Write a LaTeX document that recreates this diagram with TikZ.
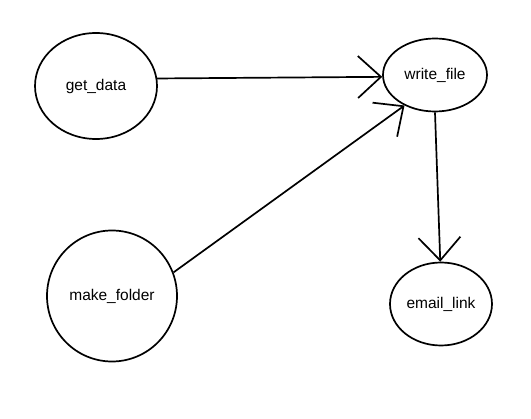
\documentclass[tikz,border=0pt]{standalone}
\usepackage{fontspec}
\setmainfont{Liberation Sans}
\usetikzlibrary{shapes.geometric,arrows.meta}
\begin{document}
\begin{tikzpicture}[x=1pt,y=-1pt,
  proc/.style={draw,ellipse,line width=1.7pt,inner sep=0pt,font=\fontsize{15.5}{18}\selectfont},
  conn/.style={line width=1.7pt,-{Straight Barb[length=23pt,width=42pt,line width=1.7pt]}}]
\useasboundingbox (0,0) rectangle (531,419);
\node[proc,minimum width=122pt,minimum height=106pt] (gd) at (96,86) {get\_data};
\node[proc,minimum width=104pt,minimum height=73pt] (wf) at (435,75) {write\_file};
\node[proc,minimum width=130pt,minimum height=131pt] (mf) at (112,296) {make\_folder};
\node[proc,minimum width=102pt,minimum height=83pt] (el) at (441,304) {email\_link};
\draw[conn] (gd.7) -- (wf.182);
\draw[conn] (mf.21) -- (wf.225);
\draw[conn] (wf.270) -- (el.91);
\end{tikzpicture}
\end{document}
